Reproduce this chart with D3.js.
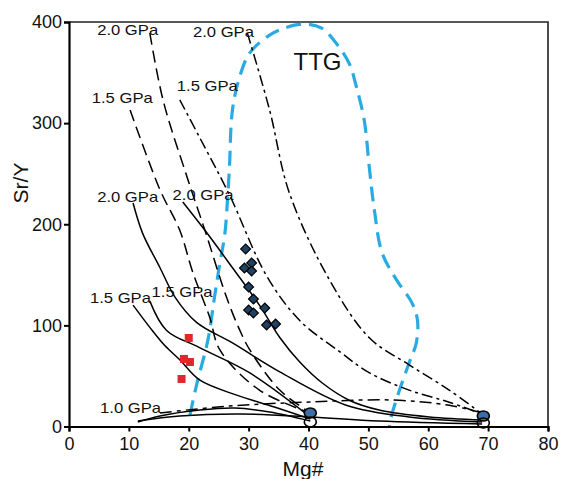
<!DOCTYPE html>
<html>
<head>
<meta charset="utf-8">
<script src="https://cdn.jsdelivr.net/npm/d3@7"></script>
<style>
body { margin: 0; background: #fff; }
svg { display: block; font-family: "Liberation Sans", Arial, sans-serif; }
</style>
</head>
<body>
<svg width="562" height="479"></svg>
<script>
const width = 562;
const height = 479;

//margins and plot size
const margin = { top: 22, right: 14, bottom: 52.5, left: 69 };
const w = width - margin.left - margin.right;
const h = height - margin.top - margin.bottom;

//axis ticks
const mg_ticks = [0, 10, 20, 30, 40, 50, 60, 70, 80];
const sry_ticks = [0, 100, 200, 300, 400];

//mixing curves, [Mg#, Sr/Y]
//long dash, ending at the Mg# 40 melt
const dash_20_left = [[13.5, 389], [15.7, 323], [19.7, 247], [22.7, 194], [26.3, 128], [28.5, 95.5], [30.2, 75.7], [35.2, 36], [40.3, 13.4]];
const dash_15_left = [[10.2, 313], [15.2, 234], [18.5, 194], [20.7, 152], [23.5, 108], [25.2, 75.7], [31.8, 36], [40.3, 13.4]];
//dash-dot, ending at the Mg# 70 melt
const dashdot_20 = [[29.8, 389], [33.5, 313], [36.8, 231], [43.5, 145], [50.2, 87.5], [56.8, 61], [63.5, 36], [69, 12.4]];
const dashdot_15 = [[18.5, 323], [21.8, 286], [26.8, 229], [33, 149], [38.5, 105], [45.2, 74], [50.2, 53], [56.8, 36], [63.5, 24], [69, 12.4]];
const dash_10 = [[15.2, 13.4], [26.8, 20.3], [40.2, 24.2], [54, 26.2], [63.5, 21], [69, 13.4]];
//solid curves
const solid_20_left = [[10.7, 221], [12.3, 191], [15.2, 157], [17.7, 128], [21.3, 103], [27.3, 82.6], [35.2, 54], [46.3, 21], [56.8, 9.4], [69, 4.5]];
const solid_20_right = [[19, 222], [22.7, 194], [27.3, 157], [31.8, 120], [35.2, 88], [38.5, 64], [42.3, 43], [46.8, 26], [51.8, 16.3], [60.2, 9.4], [69, 6.4]];
const solid_15_left = [[10.7, 120], [13.5, 98], [16, 80], [18.5, 66], [21.8, 46], [28, 31], [34.3, 19.3], [40.3, 7.4]];
const solid_15_right = [[13.5, 124], [16.3, 95], [21.8, 78], [30.2, 53], [40.3, 9.4]];
const solid_10_a = [[11.5, 4.5], [15.2, 10.4], [21.8, 16.3], [27.7, 18.3], [33.5, 14.3], [40.3, 5.4]];
const solid_10_b = [[11.5, 5.4], [18.5, 10.4], [28.5, 12.4], [40.3, 9.4], [51.8, 5.4], [69, 2.5]];

//TTG field outline
const ttg_field = [[20.2, 11.4], [21.3, 41], [23.2, 85.6], [24.3, 128], [25.2, 161.7], [26, 189], [26.5, 227], [26.8, 257],
    [27.3, 313], [28.5, 345.7], [30.2, 369.5], [33.5, 387], [36, 394], [39.3, 398], [42.2, 394], [44.5, 380], [46.8, 359],
    [48, 335.8], [49.3, 303], [50.2, 253.7], [51, 214], [52.3, 171.6], [54.7, 145], [57.3, 122], [58.2, 105], [58, 82.6],
    [56.8, 62.8], [55.2, 36], [53.8, 9.4], [53.5, 0]];

//samples
const diamond_mg = [29.5, 30.5, 29.3, 30.5, 30.0, 30.8, 30.0, 30.8, 32.7, 33.0, 34.5];
const diamond_sry = [175.6, 161.7, 156.8, 153.8, 138.0, 126.1, 115.2, 112.3, 117.2, 100.4, 101.4];
const square_mg = [20.0, 19.2, 20.2, 18.8];
const square_sry = [87.5, 66.8, 63.8, 47.0];

//melt end members
const melt_mg = [40.3, 40.3, 69.2, 69.2];
const melt_sry = [13.4, 4.5, 10.4, 3.5];
const melt_fill = ["#3b6ea7", "#fff", "#3b6ea7", "#fff"];

//pressure labels [text, Mg#, Sr/Y]
const gpa_labels = [
    ["2.0 GPa", 4.7, 387], ["2.0 GPa", 20.7, 385],
    ["1.5 GPa", 3.8, 320], ["1.5 GPa", 18, 332],
    ["2.0 GPa", 4.7, 222], ["2.0 GPa", 17.3, 224],
    ["1.5 GPa", 3.5, 122], ["1.5 GPa", 13.8, 128],
    ["1.0 GPa", 5.2, 13.4]
];

const svg = d3.select("svg");
const g = svg.append("g")
    .attr("transform", `translate(${margin.left}, ${margin.top})`);

//scales
const x = d3.scaleLinear().domain([0, 80]).range([0, w]);
const y = d3.scaleLinear().domain([0, 400]).range([h, 0]);

const line = d3.line()
    .x(d => x(d[0]))
    .y(d => y(d[1]))
    .curve(d3.curveCatmullRom.alpha(0.5));

//frame top and right
g.append("path")
    .attr("d", `M0,0H${w}V${h}`)
    .attr("fill", "none")
    .attr("stroke", "#222")
    .attr("stroke-width", 1.6);

//TTG field
g.append("path")
    .attr("d", line(ttg_field))
    .attr("fill", "none")
    .attr("stroke", "#29abe2")
    .attr("stroke-width", 3.2)
    .attr("stroke-dasharray", "15,8");

g.append("text")
    .attr("x", x(41.5))
    .attr("y", y(353))
    .attr("text-anchor", "middle")
    .attr("font-size", "24px")
    .attr("fill", "#111")
    .text("TTG");

//curves
const curves = [
    { d: dash_20_left, dash: "12,6" },
    { d: dash_15_left, dash: "12,6" },
    { d: dashdot_20, dash: "11,4,3,4" },
    { d: dashdot_15, dash: "11,4,3,4" },
    { d: dash_10, dash: "12,5,4,5" },
    { d: solid_20_left, dash: null },
    { d: solid_20_right, dash: null },
    { d: solid_15_left, dash: null },
    { d: solid_15_right, dash: null },
    { d: solid_10_a, dash: null },
    { d: solid_10_b, dash: null }
];

g.selectAll(".curve")
    .data(curves)
    .enter()
    .append("path")
    .attr("class", "curve")
    .attr("d", c => line(c.d))
    .attr("fill", "none")
    .attr("stroke", "#000")
    .attr("stroke-width", 1.5)
    .attr("stroke-dasharray", c => c.dash);

//pressure labels
g.selectAll(".gpa")
    .data(gpa_labels)
    .enter()
    .append("text")
    .attr("class", "gpa")
    .attr("x", d => x(d[1]))
    .attr("y", d => y(d[2]))
    .attr("font-size", "15px")
    .attr("textLength", 61)
    .attr("lengthAdjust", "spacingAndGlyphs")
    .attr("fill", "#111")
    .text(d => d[0]);

//red squares
g.selectAll(".sq")
    .data(square_mg.map((m, i) => [m, square_sry[i]]))
    .enter()
    .append("path")
    .attr("class", "sq")
    .attr("d", d3.symbol(d3.symbolSquare, 64))
    .attr("transform", d => `translate(${x(d[0])}, ${y(d[1])})`)
    .attr("fill", "#e3262b");

//diamonds
g.selectAll(".dm")
    .data(diamond_mg.map((m, i) => [m, diamond_sry[i]]))
    .enter()
    .append("path")
    .attr("class", "dm")
    .attr("d", d3.symbol(d3.symbolSquare, 48))
    .attr("transform", d => `translate(${x(d[0])}, ${y(d[1])}) rotate(45)`)
    .attr("fill", "#1f4263")
    .attr("stroke", "#000")
    .attr("stroke-width", 1.2);

//melt end members
g.selectAll(".melt")
    .data(melt_mg.map((m, i) => [m, melt_sry[i], melt_fill[i]]))
    .enter()
    .append("ellipse")
    .attr("class", "melt")
    .attr("cx", d => x(d[0]))
    .attr("cy", d => y(d[1]))
    .attr("rx", 6)
    .attr("ry", 5)
    .attr("fill", d => d[2])
    .attr("fill-opacity", d => d[2] === "#fff" ? 0 : 1)
    .attr("stroke", "#000")
    .attr("stroke-width", 1.6);

//axes
const xAxis = g.append("g")
    .attr("transform", `translate(0, ${h})`)
    .call(d3.axisBottom(x).tickValues(mg_ticks).tickSizeOuter(0).tickSize(5).tickPadding(6));
const yAxis = g.append("g")
    .call(d3.axisLeft(y).tickValues(sry_ticks).tickSizeOuter(0).tickSize(5).tickPadding(2));

[xAxis, yAxis].forEach(a => {
    a.select(".domain").attr("stroke", "#000").attr("stroke-width", 2.2);
    a.selectAll(".tick line").attr("stroke", "#000").attr("stroke-width", 2);
    a.selectAll(".tick text")
        .attr("fill", "#111")
        .style("font-size", "18px")
        .style("font-family", "'Liberation Sans', Arial, sans-serif");
});

//axis titles
svg.append("text")
    .attr("x", 303)
    .attr("y", 476)
    .attr("text-anchor", "middle")
    .attr("font-size", "21px")
    .attr("fill", "#111")
    .text("Mg#");
svg.append("text")
    .attr("transform", "translate(28, 183) rotate(-90)")
    .attr("text-anchor", "middle")
    .attr("font-size", "21px")
    .attr("fill", "#111")
    .text("Sr/Y");
</script>
</body>
</html>
